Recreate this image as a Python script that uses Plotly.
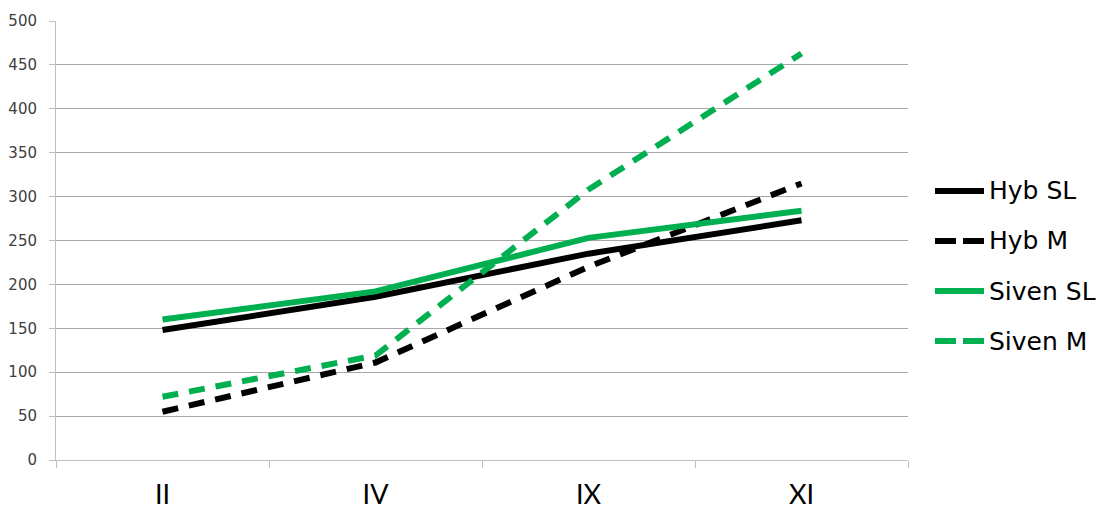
import plotly.graph_objects as go

# Sampling periods and measured values
periods = ["II", "IV", "IX", "XI"]
hyb_sl = [148, 186, 235, 273]
hyb_m = [55, 111, 220, 315]
siven_sl = [160, 192, 253, 284]
siven_m = [72, 119, 308, 463]

series = [
    ("Hyb SL", hyb_sl, "#000000", "solid"),
    ("Hyb M", hyb_m, "#000000", "16px,11px"),
    ("Siven SL", siven_sl, "#00B050", "solid"),
    ("Siven M", siven_m, "#00B050", "16px,11px"),
]

W, H = 1107, 515
ML, MR, MT, MB = 56, 199, 21, 55
PW, PH = W - ML - MR, H - MT - MB


def px_x(px):
    return (px - ML) / PW


def px_y(py):
    return (H - MB - py) / PH


fig = go.Figure()
for name, vals, color, dash in series:
    fig.add_trace(go.Scatter(
        x=periods, y=vals, name=name, mode="lines",
        line=dict(color=color, width=6, dash=dash),
        showlegend=False,
    ))

# Legend: long line swatches beside each series name
legend_rows = [191, 241, 291, 341]
for (name, _, color, dash), row in zip(series, legend_rows):
    fig.add_shape(
        type="line", xref="paper", yref="paper",
        x0=px_x(935), x1=px_x(984), y0=px_y(row), y1=px_y(row),
        line=dict(color=color, width=6,
                  dash="solid" if dash == "solid" else "21px,7px"),
    )
    fig.add_annotation(
        xref="paper", yref="paper", x=px_x(987), y=px_y(row),
        xanchor="left", yanchor="middle", showarrow=False,
        text=name,
        font=dict(family="DejaVu Sans, Arial", size=25, color="#000000"),
    )

fig.update_layout(
    width=W, height=H,
    margin=dict(l=ML, r=MR, t=MT, b=MB),
    plot_bgcolor="white", paper_bgcolor="white",
    showlegend=False,
    xaxis=dict(
        type="category",
        range=[-0.5, 3.5],
        tickson="boundaries",
        ticks="outside", ticklen=7, tickcolor="#BFBFBF",
        showline=True, linecolor="#BFBFBF", linewidth=1,
        showgrid=False,
        tickfont=dict(family="Lato, Arial", size=27, color="#000000"),
        ticklabelstandoff=11,
        automargin=False,
    ),
    yaxis=dict(
        range=[0, 500], dtick=50,
        ticks="outside", ticklen=6, tickcolor="#BFBFBF",
        showline=True, linecolor="#BFBFBF", linewidth=1,
        showgrid=True, gridcolor="#A6A6A6", gridwidth=1,
        zeroline=False,
        tickfont=dict(family="DejaVu Sans, Arial", size=15, color="#404040"),
        ticklabelstandoff=9,
        automargin=False,
    ),
)

fig.write_html("out.html")
